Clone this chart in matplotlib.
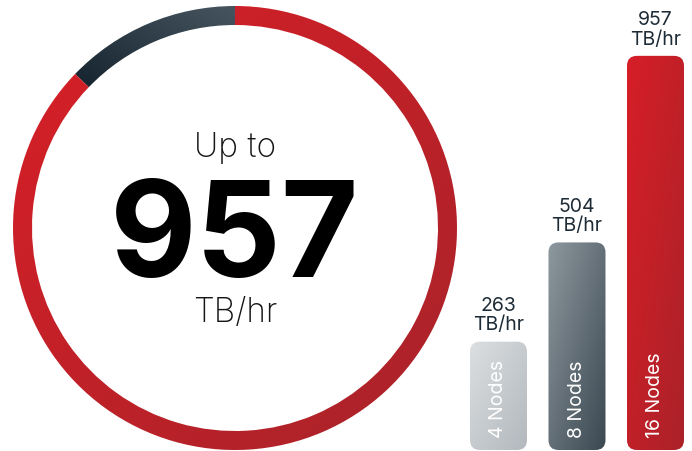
import numpy as np
import matplotlib
matplotlib.use("Agg")
from matplotlib import pyplot as plt
from matplotlib.colors import LinearSegmentedColormap
from matplotlib.patches import Wedge, FancyBboxPatch

plt.rcParams['font.family'] = ['Inter', 'DejaVu Sans']

# ring: shares of the full circle, counterclockwise from 12 o'clock
ring_parts = ["highlight", "rest"]
ring_share = [0.128, 0.872]
ring_colors = [("#46555f", "#14232d"), ("#d81f27", "#a8232a")]
ring_dirs = [(-1, -1), (1, -1)]  # gradient direction (x, y), light -> dark

headline_pre = "Up to"
headline_value = "957"
headline_unit = "TB/hr"

node_labels = ["4 Nodes", "8 Nodes", "16 Nodes"]
throughput = [263, 504, 957]
unit = "TB/hr"
bar_colors = [("#dcdfe1", "#b2b8bd"), ("#8e989f", "#3b4851"), ("#d71e27", "#ab2229")]

W, H = 692, 452
fig = plt.figure(figsize=(W / 100, H / 100), dpi=100)
ax = fig.add_axes([0, 0, 1, 1])
ax.axis('off')


def gradient_fill(a, patch, c0, c1, extent, direction):
    cmap = LinearSegmentedColormap.from_list("g", [c0, c1])
    yy, xx = np.mgrid[0:1:200j, 0:1:200j]
    dx, dy = direction
    z = xx * dx + yy * dy
    z = (z - z.min()) / (z.max() - z.min())
    im = a.imshow(z, cmap=cmap, extent=extent, origin='lower', aspect='auto',
                  interpolation='bilinear', zorder=1)
    im.set_clip_path(patch)


# donut ring
cx, cy, R, ring_w = 235, 223, 222, 19
start = 90
for part, share, cols, d in zip(ring_parts, ring_share, ring_colors, ring_dirs):
    end = start + share * 360
    w = Wedge((cx, cy), R, start, end, width=ring_w, facecolor='none', edgecolor='none')
    ax.add_patch(w)
    bb = w.get_path().get_extents()
    gradient_fill(ax, w, cols[0], cols[1], [bb.x0, bb.x1, bb.y0, bb.y1], d)
    start = end

ax.set_xlim(0, W)
ax.set_ylim(0, H)

ax.text(cx, 295, headline_pre, ha='center', va='baseline', fontsize=24,
        fontweight='light', color='#151515')
ax.text(cx, 175, headline_value, ha='center', va='baseline', fontsize=96,
        fontweight='bold', color='black')
ax.text(cx, 130, headline_unit, ha='center', va='baseline', fontsize=24,
        fontweight='light', color='#151515')

# bars
bx = fig.add_axes([460 / W, 1 / H, 232 / W, 451 / H])
bx.axis('off')
xmin, xmax, ymax = -0.49, 2.465, 1095
bx.set_xlim(xmin, xmax)
bx.set_ylim(0, ymax)
x_per_px = (xmax - xmin) / 232
y_per_px = ymax / 451
bw = 57 * x_per_px
rad = 10 * x_per_px

for i, (lbl, v, cols) in enumerate(zip(node_labels, throughput, bar_colors)):
    p = FancyBboxPatch((i - bw / 2, 0), bw, v,
                       boxstyle=f"round,pad=0,rounding_size={rad}",
                       mutation_aspect=y_per_px / x_per_px,
                       facecolor='none', edgecolor='none')
    bx.add_patch(p)
    gradient_fill(bx, p, cols[0], cols[1], [i - bw / 2, i + bw / 2, 0, v], (1, -1))
    bx.annotate(f"{v}\n{unit}", (i, v), xytext=(0, 6), textcoords='offset points',
                ha='center', va='bottom', fontsize=14, color='#1e2c37',
                linespacing=1.1, annotation_clip=False)
    bx.annotate(lbl, (i, 0), xytext=(0, 9), textcoords='offset points',
                rotation=90, ha='center', va='bottom', fontsize=14,
                color='white', zorder=3)

bx.set_xlim(xmin, xmax)
bx.set_ylim(0, ymax)

fig.savefig('out.png', dpi=100)
